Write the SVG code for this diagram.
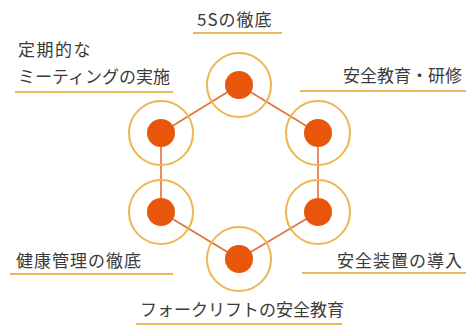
<svg xmlns="http://www.w3.org/2000/svg" width="469" height="327" viewBox="0 0 469 327">
<style>
.ring{fill:none;stroke:#edb64e;stroke-width:2}
.dot{fill:#e8560c}
.lnk{stroke:#e2703a;stroke-width:1.6;fill:none}
.lbl{font-family:"Noto Sans CJK JP","Noto Sans",sans-serif;font-size:17px;fill:#3a3a3a}
.sp{letter-spacing:1px}
.ul{stroke:#eab75a;stroke-width:2}
</style>
<rect width="469" height="327" fill="#fff"/>
<g id="connectors">
<line class="lnk" x1="239" y1="85" x2="318" y2="133"/>
<line class="lnk" x1="318" y1="133" x2="318" y2="212"/>
<line class="lnk" x1="318" y1="212" x2="239" y2="259"/>
<line class="lnk" x1="239" y1="259" x2="161" y2="212"/>
<line class="lnk" x1="161" y1="212" x2="161" y2="133"/>
<line class="lnk" x1="161" y1="133" x2="239" y2="85"/>
</g>
<g id="node-5s">
<circle class="ring" cx="239" cy="85" r="32"/>
<circle class="dot" cx="239" cy="85" r="14"/>
<text class="lbl sp" x="197" y="26">5Sの徹底</text>
<line class="ul" x1="193" y1="33" x2="282" y2="33"/>
</g>
<g id="node-meeting">
<circle class="ring" cx="161" cy="133" r="32"/>
<circle class="dot" cx="161" cy="133" r="14"/>
<text class="lbl" x="18" y="56" style="letter-spacing:1.5px">定期的な</text>
<text class="lbl" x="18" y="83">ミーティングの実施</text>
<line class="ul" x1="15" y1="92" x2="173" y2="92"/>
</g>
<g id="node-education">
<circle class="ring" cx="318" cy="133" r="32"/>
<circle class="dot" cx="318" cy="133" r="14"/>
<text class="lbl" x="462" y="82" text-anchor="end">安全教育・研修</text>
<line class="ul" x1="300" y1="91" x2="466" y2="91"/>
</g>
<g id="node-health">
<circle class="ring" cx="161" cy="212" r="32"/>
<circle class="dot" cx="161" cy="212" r="14"/>
<text class="lbl sp" x="16" y="267">健康管理の徹底</text>
<line class="ul" x1="10" y1="274" x2="173" y2="274"/>
</g>
<g id="node-device">
<circle class="ring" cx="318" cy="212" r="32"/>
<circle class="dot" cx="318" cy="212" r="14"/>
<text class="lbl sp" x="337" y="267">安全装置の導入</text>
<line class="ul" x1="302" y1="273" x2="466" y2="273"/>
</g>
<g id="node-forklift">
<circle class="ring" cx="239" cy="259" r="32"/>
<circle class="dot" cx="239" cy="259" r="14"/>
<text class="lbl" x="140" y="316">フォークリフトの安全教育</text>
<line class="ul" x1="136" y1="324" x2="342" y2="324"/>
</g>
</svg>
